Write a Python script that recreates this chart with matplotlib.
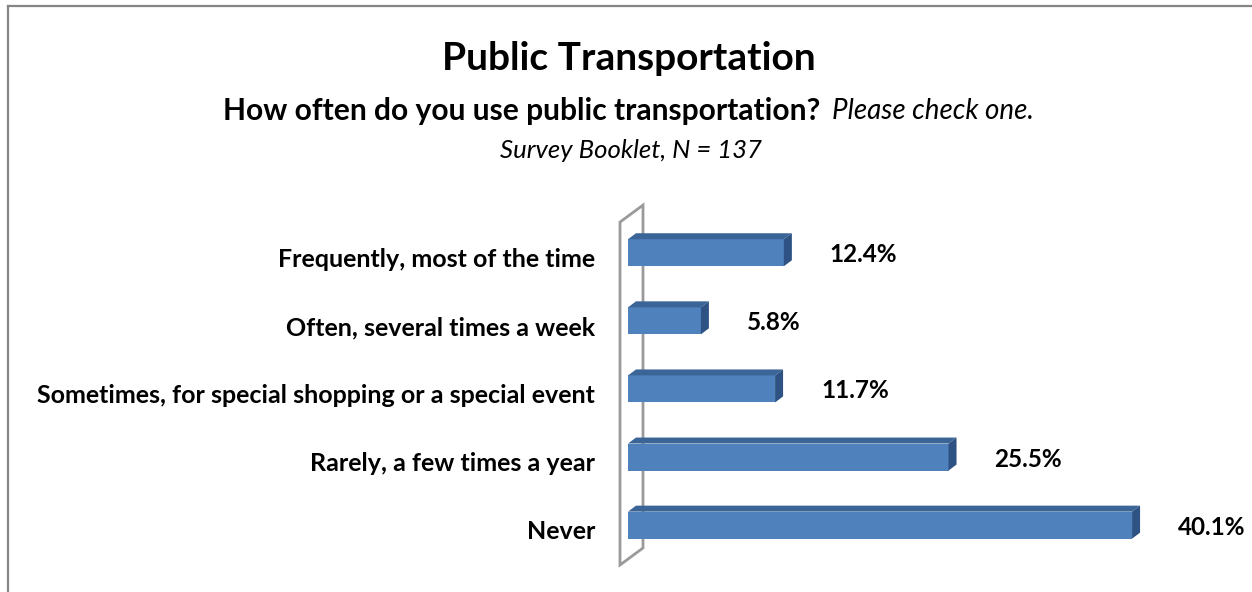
import matplotlib.pyplot as plt
from matplotlib.patches import Polygon
from matplotlib.lines import Line2D

plt.rcParams['font.family'] = ['Lato', 'DejaVu Sans']

categories = ['Frequently, most of the time',
              'Often, several times a week',
              'Sometimes, for special shopping or a special event',
              'Rarely, a few times a year',
              'Never']
percents = [12.4, 5.8, 11.7, 25.5, 40.1]

front = '#4f81bd'
top = '#3c6597'
side = '#2e5283'
wall_edge = '#9a9a9a'

W, H = 1252, 592
fig = plt.figure(figsize=(W / 100, H / 100), dpi=100)

# axes placed in pixels so the fake 3D depth can be given in pixels too
x0_px, y0_px = 628, 26
xmax, ylo, yhi = 45.0, -0.6, 4.6
sx = 12.57          # px per percent
sy = 68.1           # px per category step
ax = fig.add_axes([x0_px / W, y0_px / H, xmax * sx / W, (yhi - ylo) * sy / H])
ax.set_xlim(0, xmax)
ax.set_ylim(ylo, yhi)
ax.axis('off')

ypos = list(range(len(categories)))[::-1]
bar_h = 27 / sy

# back wall (a thin slab drawn as a parallelogram)
wx = -8 / sx
wdx, wdy = 23 / sx, 17 / sy
wb, wt = -0.585, 4.45
wall = Polygon([(wx, wb), (wx, wt), (wx + wdx, wt + wdy), (wx + wdx, wb + wdy)],
               closed=True, facecolor='white', edgecolor=wall_edge, lw=2,
               clip_on=False, zorder=1)
ax.add_patch(wall)

bars = ax.barh(ypos, percents, height=bar_h, left=0, color=front,
               edgecolor='none', zorder=3)

# depth faces of each bar
ddx, ddy = 8 / sx, 6 / sy
for rect in bars:
    x, y = rect.get_x(), rect.get_y()
    w, h = rect.get_width(), rect.get_height()
    ax.add_patch(Polygon([(x, y + h), (x + w, y + h),
                          (x + w + ddx, y + h + ddy), (x + ddx, y + h + ddy)],
                         closed=True, facecolor=top, edgecolor='none',
                         zorder=3, clip_on=False))
    ax.add_patch(Polygon([(x + w, y), (x + w, y + h),
                          (x + w + ddx, y + h + ddy), (x + w + ddx, y + ddy)],
                         closed=True, facecolor=side, edgecolor='none',
                         zorder=3, clip_on=False))

for y, v in zip(ypos, percents):
    ax.text(v + 46 / sx, y - 0.03, f'{v}%', ha='left', va='center',
            fontsize=17.5, fontweight='bold', color='black', clip_on=False)

for y, lab in zip(ypos, categories):
    ax.text(-33 / sx, y - 0.1, lab, ha='right', va='center',
            fontsize=18, fontweight='bold', color='black', clip_on=False)

fig.text(629 / W, 1 - 58 / H, 'Public Transportation', ha='center',
         va='center', fontsize=28, fontweight='bold')
fig.text(820 / W, 1 - 111 / H, 'How often do you use public transportation?',
         ha='right', va='center', fontsize=21.6, fontweight='bold')
fig.text(832 / W, 1 - 111 / H, 'Please check one.', ha='left', va='center',
         fontsize=20, style='italic')
fig.text(631 / W, 1 - 150 / H, 'Survey Booklet, N = 137', ha='center',
         va='center', fontsize=18.5, style='italic')

# chart frame (only the left and top edges fall inside the image)
fig.add_artist(Line2D([8 / W, 8 / W], [0, 1 - 6 / H], color='#858585', lw=1.6))
fig.add_artist(Line2D([8 / W, 1], [1 - 6 / H, 1 - 6 / H], color='#858585', lw=1.6))

fig.savefig('out.png', dpi=100, facecolor='white')
